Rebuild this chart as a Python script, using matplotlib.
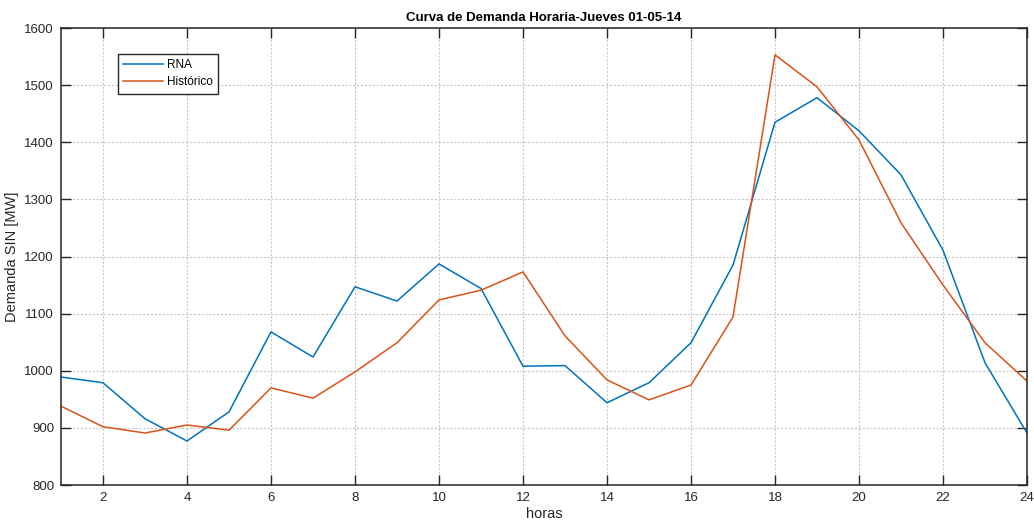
import matplotlib.pyplot as plt

plt.rcParams['font.family'] = ['Liberation Sans', 'DejaVu Sans']

# demanda horaria SIN, jueves 01-05-14
horas = list(range(1, 25))
rna = [989, 979, 916, 877, 928, 1068, 1024, 1147, 1122, 1187, 1144, 1008,
       1009, 944, 979, 1049, 1185, 1435, 1478, 1420, 1343, 1211, 1014, 891]
historico = [938, 902, 891, 905, 896, 970, 952, 998, 1049, 1124, 1141, 1173,
             1061, 984, 949, 975, 1094, 1553, 1497, 1404, 1259, 1150, 1049, 982]

fig = plt.figure(figsize=(10.34, 5.21), dpi=100)
ax = fig.add_axes([61/1034, 1 - 485/521, 966/1034, 457/521])

ax.plot(horas, rna, color='#0072BD', lw=1.1, label='RNA')
ax.plot(horas, historico, color='#D95319', lw=1.1, label='Histórico')

ax.set_xlim(1, 24)
ax.set_ylim(800, 1600)
ax.set_xticks(range(2, 25, 2))
ax.set_yticks(range(800, 1601, 100))
ax.grid(True, color='#c8c8c8', linestyle=(0, (2, 1.5)), lw=0.8)
ax.tick_params(direction='in', length=7.5, width=1, top=True, right=True,
               labelsize=9.5, colors='#262626', pad=5)
for s in ax.spines.values():
    s.set_linewidth(1.1)
    s.set_color('#262626')

ax.set_title('Curva de Demanda Horaria-Jueves 01-05-14', fontsize=9.5,
             fontweight='bold', pad=5)
ax.set_xlabel('horas', fontsize=10.5, color='#262626', labelpad=2)
ax.set_ylabel('Demanda SIN [MW]', fontsize=10.5, color='#262626', labelpad=4)

leg = ax.legend(loc='upper left', bbox_to_anchor=(0.059, 0.944), fontsize=8.5,
                fancybox=False, framealpha=1, edgecolor='#262626',
                borderpad=0.45, handlelength=3.4, handletextpad=0.3,
                labelspacing=0.45, borderaxespad=0)
leg.get_frame().set_linewidth(1)

fig.savefig('out.png', dpi=100)
